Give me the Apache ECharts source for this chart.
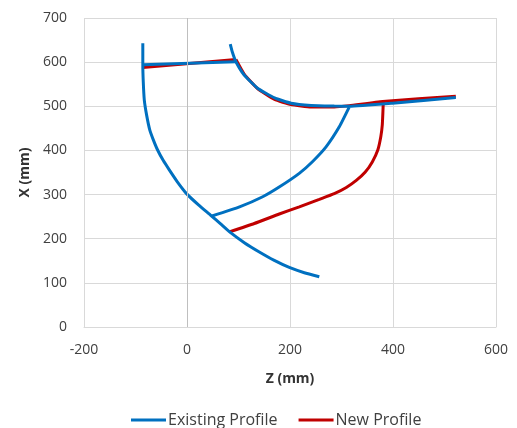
<!DOCTYPE html>
<html>
<head>
<meta charset="utf-8">
<script src="https://cdn.jsdelivr.net/npm/echarts@6/dist/echarts.min.js"></script>
<style>html,body{margin:0;padding:0;background:#fff;}#c{width:517px;height:428px;}</style>
</head>
<body>
<div id="c"></div>
<script>
// Tick settings
var xTicks = [-200, 0, 200, 400, 600];
var yTicks = [0, 100, 200, 300, 400, 500, 600, 700];

// Existing Profile segments [Z, X]
var existingArc = [[-85.8,643],[-85.8,594],[-84.9,555],[-82.9,514],[-78.4,480],[-72.2,446],[-65.4,424],[-57.1,401],[-46,377],[-34.4,356],[-18.8,329],[0,301],[22.9,276],[47.2,252],[64.7,234],[82.1,216],[111.3,191],[140.4,170],[169.5,151],[198.6,135],[227.8,123],[256.9,114]];
var existingTopLine = [[-85.8,594],[95,601]];
var existingTopCurve = [[84,641],[88,623],[95,601],[111,571],[137,541],[170,519],[202,507],[241,502],[286,500.5],[315,500],[399,507],[522,520]];
var existingBranch = [[315,498],[296,454],[270,408],[244,375],[218,348],[179,317],[147,295],[102,272],[48.5,251.5]];

// New Profile segments [Z, X]
var newTopLine = [[-85.8,588],[95,606]];
var newTopCurve = [[95,606],[111,573],[137,540],[170,515.5],[202,504],[241,498.5],[286,498.5],[315,501.5],[380,511],[522,522.5]];
var newBranch = [[381.2,512],[380.4,487],[379.2,458],[376.3,431],[370.5,401],[359.8,374],[346.2,351],[328.7,332],[309.3,316],[286,302],[256.9,289],[218.1,272],[179.2,256],[130.7,234.5],[82.1,215.5]];

var BLUE = '#0070C0', RED = '#C00000';
var FONT = 'Open Sans';

function seg(name, data, color, z) {
  return {
    name: name, type: 'line', data: data, showSymbol: false, symbol: 'none',
    smooth: 0.15, z: z, lineStyle: { color: color, width: 3 }, itemStyle: { color: color },
    silent: true, animation: false
  };
}

var series = [
  seg('New Profile', newTopLine, RED, 2),
  seg('New Profile', newTopCurve, RED, 2),
  seg('New Profile', newBranch, RED, 2),
  seg('Existing Profile', existingArc, BLUE, 3),
  seg('Existing Profile', existingTopLine, BLUE, 3),
  seg('Existing Profile', existingTopCurve, BLUE, 3),
  seg('Existing Profile', existingBranch, BLUE, 3)
];
series[0].markLine = {
  silent: true, symbol: 'none', label: { show: false },
  lineStyle: { color: '#BFBFBF', width: 1, type: 'solid' },
  data: [{ xAxis: 0 }], animation: false
};
series[0].smooth = false; series[4].smooth = false;

var chart = echarts.init(document.getElementById('c'));
chart.setOption({
  animation: false,
  backgroundColor: '#fff',
  grid: { left: 84, right: 21, top: 18, bottom: 101, containLabel: false },
  xAxis: {
    type: 'value', min: xTicks[0], max: xTicks[xTicks.length - 1], interval: 200,
    name: 'Z (mm)', nameLocation: 'middle', nameGap: 45,
    nameTextStyle: { fontFamily: FONT, fontSize: 14, fontWeight: 'bold', color: '#333' },
    axisLine: { show: true, lineStyle: { color: '#D9D9D9' } },
    axisTick: { show: false },
    axisLabel: { fontFamily: FONT, fontSize: 14, color: '#404040', margin: 16 },
    splitLine: { show: true, lineStyle: { color: '#D9D9D9' } }
  },
  yAxis: {
    type: 'value', min: yTicks[0], max: yTicks[yTicks.length - 1], interval: 100,
    name: 'X (mm)', nameLocation: 'middle', nameGap: 50, nameRotate: 90,
    nameTextStyle: { fontFamily: FONT, fontSize: 14, fontWeight: 'bold', color: '#333' },
    axisLine: { show: false },
    axisTick: { show: false },
    axisLabel: { fontFamily: FONT, fontSize: 14, color: '#404040', margin: 17 },
    splitLine: { show: true, lineStyle: { color: '#D9D9D9' } }
  },
  legend: {
    data: [
      { name: 'Existing Profile', icon: 'rect' },
      { name: 'New Profile', icon: 'rect' }
    ],
    left: 126, top: 407, itemWidth: 35, itemHeight: 3, itemGap: 21,
    textStyle: { fontFamily: FONT, fontSize: 16, color: '#404040', padding: [0,0,0,-3] }
  },
  series: series
});
</script>
</body>
</html>
